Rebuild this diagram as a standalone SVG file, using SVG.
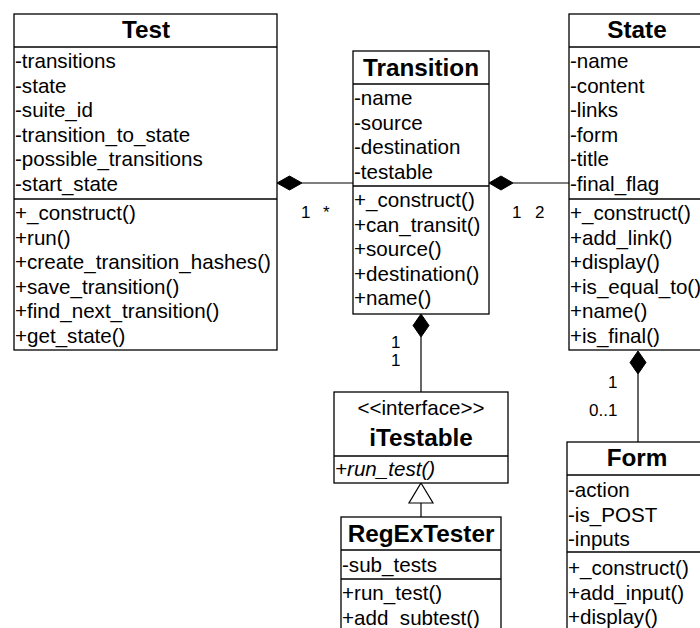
<svg xmlns="http://www.w3.org/2000/svg" width="700" height="628" viewBox="0 0 700 628">
<style>
.box{fill:#fff;stroke:#000;stroke-width:1.3}
.sep{stroke:#000;stroke-width:1.3}
.t{font-family:"Liberation Sans",Arial,sans-serif;font-size:20.6px;fill:#000}
.h{font-family:"Liberation Sans",Arial,sans-serif;font-size:24.3px;font-weight:bold;fill:#000;text-anchor:middle}
.lbl{font-family:"Liberation Sans",Arial,sans-serif;font-size:17px;fill:#000}
.ln{stroke:#000;stroke-width:1.2;fill:none}
.dia{fill:#000;stroke:#000;stroke-width:1}
.tri{fill:#fff;stroke:#000;stroke-width:1.2}
</style>
<rect width="700" height="628" fill="#fff"/>
<g id="connectors">
  <line class="ln" x1="302" y1="183" x2="353" y2="183"/>
  <polygon class="dia" points="277,183 289.5,176 302,183 289.5,190"/>
  <text class="lbl" x="301" y="218">1</text>
  <text class="lbl" x="323" y="218">*</text>
  <line class="ln" x1="513" y1="183" x2="569" y2="183"/>
  <polygon class="dia" points="489,183 501,176 513,183 501,190"/>
  <text class="lbl" x="512" y="218">1</text>
  <text class="lbl" x="535" y="218">2</text>
  <line class="ln" x1="421" y1="337" x2="421" y2="392"/>
  <polygon class="dia" points="421,314 429,325.5 421,337 413,325.5"/>
  <text class="lbl" x="391" y="348" font-size="16">1</text>
  <text class="lbl" x="391" y="366" font-size="16">1</text>
  <line class="ln" x1="421" y1="503" x2="421" y2="517"/>
  <polygon class="tri" points="421,483 433,503 409,503"/>
  <line class="ln" x1="638" y1="374" x2="638" y2="442"/>
  <polygon class="dia" points="638,351 646,362.5 638,374 630,362.5"/>
  <text class="lbl" x="608" y="388">1</text>
  <text class="lbl" x="589" y="416">0..1</text>
</g>
<g id="Test">
  <rect class="box" x="14" y="14" width="263" height="336"/>
  <line class="sep" x1="14" y1="47" x2="277" y2="47"/>
  <line class="sep" x1="14" y1="199" x2="277" y2="199"/>
  <text class="h" x="146" y="38">Test</text>
  <text class="t" x="15" y="68">-transitions</text>
  <text class="t" x="15" y="92.5">-state</text>
  <text class="t" x="15" y="117">-suite_id</text>
  <text class="t" x="15" y="141.5">-transition_to_state</text>
  <text class="t" x="15" y="166">-possible_transitions</text>
  <text class="t" x="15" y="190.5">-start_state</text>
  <text class="t" x="15" y="220">+_construct()</text>
  <text class="t" x="15" y="244.5">+run()</text>
  <text class="t" x="15" y="269">+create_transition_hashes()</text>
  <text class="t" x="15" y="293.5">+save_transition()</text>
  <text class="t" x="15" y="318">+find_next_transition()</text>
  <text class="t" x="15" y="342.5">+get_state()</text>
</g>
<g id="Transition">
  <rect class="box" x="353" y="51" width="136" height="263"/>
  <line class="sep" x1="353" y1="84" x2="489" y2="84"/>
  <line class="sep" x1="353" y1="186" x2="489" y2="186"/>
  <text class="h" x="421" y="76">Transition</text>
  <text class="t" x="354" y="105">-name</text>
  <text class="t" x="354" y="129.5">-source</text>
  <text class="t" x="354" y="154">-destination</text>
  <text class="t" x="354" y="178.5">-testable</text>
  <text class="t" x="354" y="207">+_construct()</text>
  <text class="t" x="354" y="231.5">+can_transit()</text>
  <text class="t" x="354" y="256">+source()</text>
  <text class="t" x="354" y="280.5">+destination()</text>
  <text class="t" x="354" y="305">+name()</text>
</g>
<g id="State">
  <rect class="box" x="569" y="14" width="136" height="336"/>
  <line class="sep" x1="569" y1="47" x2="705" y2="47"/>
  <line class="sep" x1="569" y1="199" x2="705" y2="199"/>
  <text class="h" x="637" y="38">State</text>
  <text class="t" x="570" y="68">-name</text>
  <text class="t" x="570" y="92.5">-content</text>
  <text class="t" x="570" y="117">-links</text>
  <text class="t" x="570" y="141.5">-form</text>
  <text class="t" x="570" y="166">-title</text>
  <text class="t" x="570" y="190.5">-final_flag</text>
  <text class="t" x="570" y="220">+_construct()</text>
  <text class="t" x="570" y="244.5">+add_link()</text>
  <text class="t" x="570" y="269">+display()</text>
  <text class="t" x="570" y="293.5">+is_equal_to()</text>
  <text class="t" x="570" y="318">+name()</text>
  <text class="t" x="570" y="342.5">+is_final()</text>
</g>
<g id="iTestable">
  <rect class="box" x="334" y="392" width="174" height="91"/>
  <line class="sep" x1="334" y1="456" x2="508" y2="456"/>
  <text class="t" x="421" y="415" text-anchor="middle">&lt;&lt;interface&gt;&gt;</text>
  <text class="h" x="421" y="446">iTestable</text>
  <text class="t" x="335" y="476" font-style="italic">+run_test()</text>
</g>
<g id="RegExTester">
  <rect class="box" x="341" y="517" width="160" height="130"/>
  <line class="sep" x1="341" y1="550" x2="501" y2="550"/>
  <line class="sep" x1="341" y1="579" x2="501" y2="579"/>
  <text class="h" x="421" y="542">RegExTester</text>
  <text class="t" x="342" y="572">-sub_tests</text>
  <text class="t" x="342" y="600">+run_test()</text>
  <text class="t" x="342" y="624.5">+add_subtest()</text>
</g>
<g id="Form">
  <rect class="box" x="567" y="442" width="141" height="200"/>
  <line class="sep" x1="567" y1="475" x2="708" y2="475"/>
  <line class="sep" x1="567" y1="552" x2="708" y2="552"/>
  <text class="h" x="637" y="466">Form</text>
  <text class="t" x="568" y="497">-action</text>
  <text class="t" x="568" y="521.5">-is_POST</text>
  <text class="t" x="568" y="546">-inputs</text>
  <text class="t" x="568" y="575">+_construct()</text>
  <text class="t" x="568" y="599.5">+add_input()</text>
  <text class="t" x="568" y="624">+display()</text>
</g>
</svg>
